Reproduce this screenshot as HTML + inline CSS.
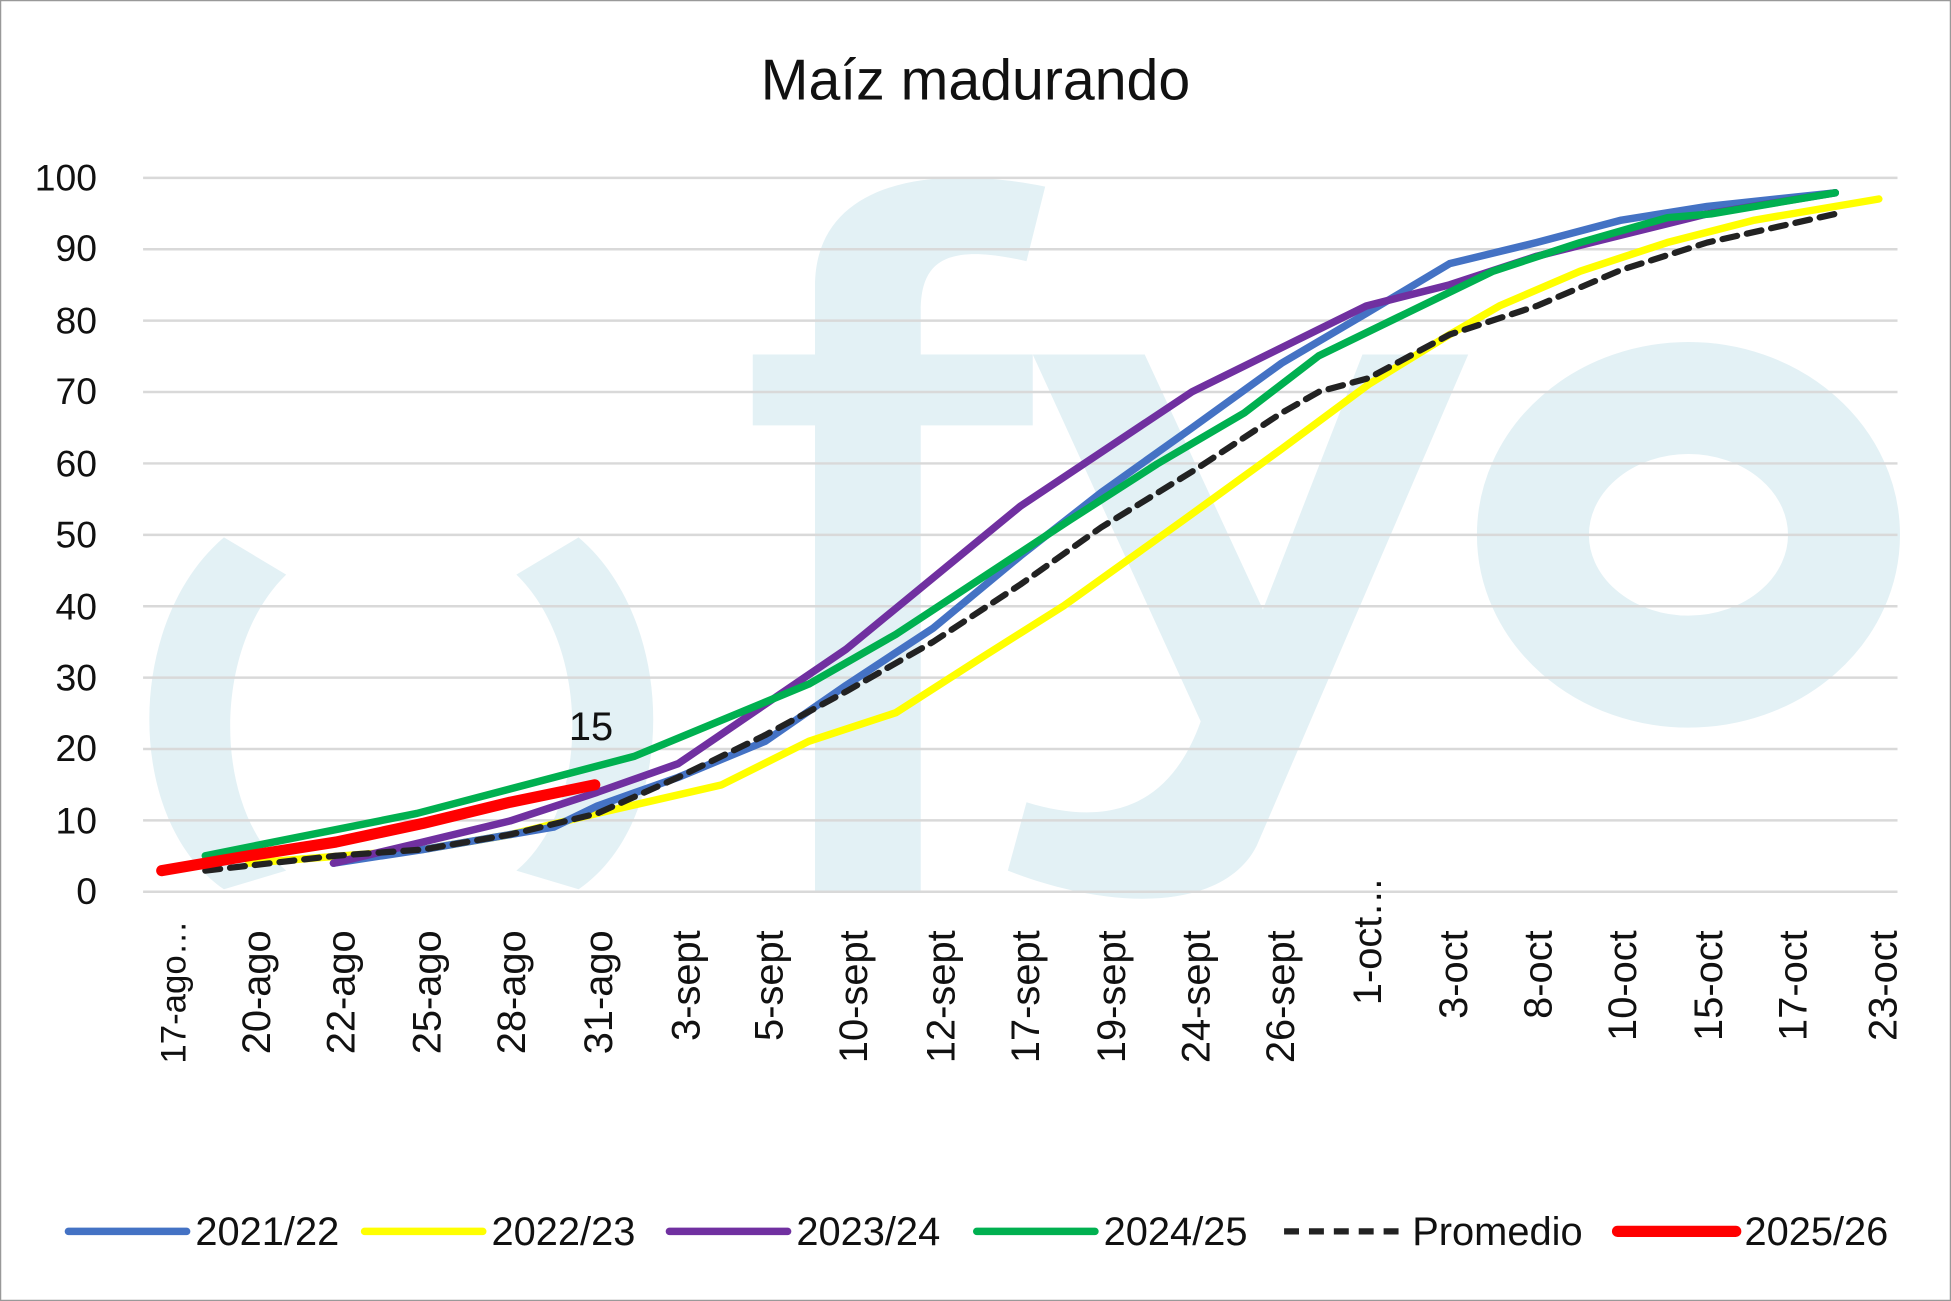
<!DOCTYPE html>
<html><head><meta charset="utf-8"><style>html,body{margin:0;padding:0;background:#fff}svg{display:block}</style></head>
<body>
<svg width="1951" height="1301" viewBox="0 0 1568 1046" preserveAspectRatio="none" xmlns="http://www.w3.org/2000/svg" font-family="Liberation Sans, sans-serif">
<rect x="0.5" y="0.5" width="1567" height="1045" fill="#fff" stroke="#999" stroke-width="1"/>
<g fill="#e3f1f5" stroke="none">
<path d="M180 432 C100 500 100 660 180 715 L230 700 C170 650 170 520 230 462 Z"/>
<path d="M465 432 C545 500 545 660 465 715 L415 700 C475 650 475 520 415 462 Z"/>
<path d="M655 717 L655 230 C655 150 740 130 840 150 L825 210 C760 195 740 210 740 250 L740 717 Z"/>
<rect x="605" y="285" width="225" height="57"/>
<path d="M830 285 L920 285 L1015 490 L1095 285 L1180 285 L1010 680 C985 730 900 735 810 700 L825 645 C890 665 940 650 965 580 Z"/>
<ellipse cx="1357" cy="430" rx="125" ry="110" fill="none" stroke="#e3f1f5" stroke-width="90"/>
</g>
<g stroke="#d9d9d9" stroke-width="2">
<line x1="115" y1="143" x2="1525" y2="143"/><line x1="115" y1="200.4" x2="1525" y2="200.4"/><line x1="115" y1="257.8" x2="1525" y2="257.8"/><line x1="115" y1="315.2" x2="1525" y2="315.2"/><line x1="115" y1="372.6" x2="1525" y2="372.6"/><line x1="115" y1="430" x2="1525" y2="430"/><line x1="115" y1="487.4" x2="1525" y2="487.4"/><line x1="115" y1="544.8" x2="1525" y2="544.8"/><line x1="115" y1="602.2" x2="1525" y2="602.2"/><line x1="115" y1="659.6" x2="1525" y2="659.6"/><line x1="115" y1="717" x2="1525" y2="717"/>
</g>
<text x="784" y="80" font-size="46" text-anchor="middle" fill="#111">Maíz madurando</text>
<g font-size="30" fill="#111" text-anchor="end">
<text x="78" y="153">100</text><text x="78" y="210">90</text><text x="78" y="268">80</text><text x="78" y="325">70</text><text x="78" y="383">60</text><text x="78" y="440">50</text><text x="78" y="498">40</text><text x="78" y="555">30</text><text x="78" y="612">20</text><text x="78" y="670">10</text><text x="78" y="727">0</text>
</g>
<g font-size="32" fill="#111" text-anchor="end">
<text transform="translate(149,740) rotate(-90)" font-size="28">17-ago…</text>
<text transform="translate(217,748) rotate(-90)">20-ago</text>
<text transform="translate(285,748) rotate(-90)">22-ago</text>
<text transform="translate(354,748) rotate(-90)">25-ago</text>
<text transform="translate(422,748) rotate(-90)">28-ago</text>
<text transform="translate(492,748) rotate(-90)">31-ago</text>
<text transform="translate(562,748) rotate(-90)">3-sept</text>
<text transform="translate(629,748) rotate(-90)">5-sept</text>
<text transform="translate(697,748) rotate(-90)">10-sept</text>
<text transform="translate(767,748) rotate(-90)">12-sept</text>
<text transform="translate(835,748) rotate(-90)">17-sept</text>
<text transform="translate(904,748) rotate(-90)">19-sept</text>
<text transform="translate(972,748) rotate(-90)">24-sept</text>
<text transform="translate(1040,748) rotate(-90)">26-sept</text>
<text transform="translate(1110,705) rotate(-90)">1-oct…</text>
<text transform="translate(1179,748) rotate(-90)">3-oct</text>
<text transform="translate(1247,748) rotate(-90)">8-oct</text>
<text transform="translate(1315,748) rotate(-90)">10-oct</text>
<text transform="translate(1384,748) rotate(-90)">15-oct</text>
<text transform="translate(1452,748) rotate(-90)">17-oct</text>
<text transform="translate(1524,748) rotate(-90)">23-oct</text>
</g>
<g fill="none" stroke-width="6" stroke-linejoin="round" stroke-linecap="round">
<polyline stroke="#ffff00" points="200,694 340,683 410,671 480,654 580,631 650,596 720,573 790,528 855,487 950,419 1030,361 1100,309 1165,269 1205,246 1270,218 1340,195 1410,177 1510,160"/>
<polyline stroke="#4472c4" points="268,694 340,683 445,665 480,648 545,625 615,596 680,551 750,505 820,447 885,396 958,344 1030,292 1098,252 1165,212 1235,195 1303,177 1372,166 1475,155"/>
<polyline stroke="#7030a0" points="268,694 340,677 410,660 480,637 545,614 680,522 820,407 958,315 1098,246 1165,229 1235,206 1303,189 1372,172 1475,155"/>
<polyline stroke="#00b050" points="165,688 335,654 510,608 650,550 720,510 790,464 860,418 930,373 1000,332 1060,286 1130,252 1200,218 1270,195 1340,175 1375,172 1475,155"/>
<polyline stroke="#222" stroke-dasharray="12,8" stroke-width="5" points="165,700 270,688 340,683 410,671 480,654 545,625 615,591 680,556 750,516 820,470 885,424 960,378 1030,332 1060,315 1100,304 1165,269 1235,246 1303,217 1372,195 1475,172"/>
<polyline stroke="#ff0000" stroke-width="9" points="130,700 200,688 270,677 340,662 410,645 478,631"/>
</g>
<text x="475" y="595" font-size="32" text-anchor="middle" fill="#111">15</text>
<g font-size="32" fill="#111" stroke-linecap="round">
<line x1="55" y1="990" x2="150" y2="990" stroke="#4472c4" stroke-width="6"/><text x="157" y="1001">2021/22</text>
<line x1="293" y1="990" x2="388" y2="990" stroke="#ffff00" stroke-width="6"/><text x="395" y="1001">2022/23</text>
<line x1="538" y1="990" x2="633" y2="990" stroke="#7030a0" stroke-width="6"/><text x="640" y="1001">2023/24</text>
<line x1="785" y1="990" x2="880" y2="990" stroke="#00b050" stroke-width="6"/><text x="887" y="1001">2024/25</text>
<line x1="1032" y1="990" x2="1127" y2="990" stroke="#222" stroke-width="5" stroke-dasharray="12,8" stroke-linecap="butt"/><text x="1135" y="1001">Promedio</text>
<line x1="1300" y1="990" x2="1395" y2="990" stroke="#ff0000" stroke-width="9"/><text x="1402" y="1001">2025/26</text>
</g>
</svg>
</body></html>
